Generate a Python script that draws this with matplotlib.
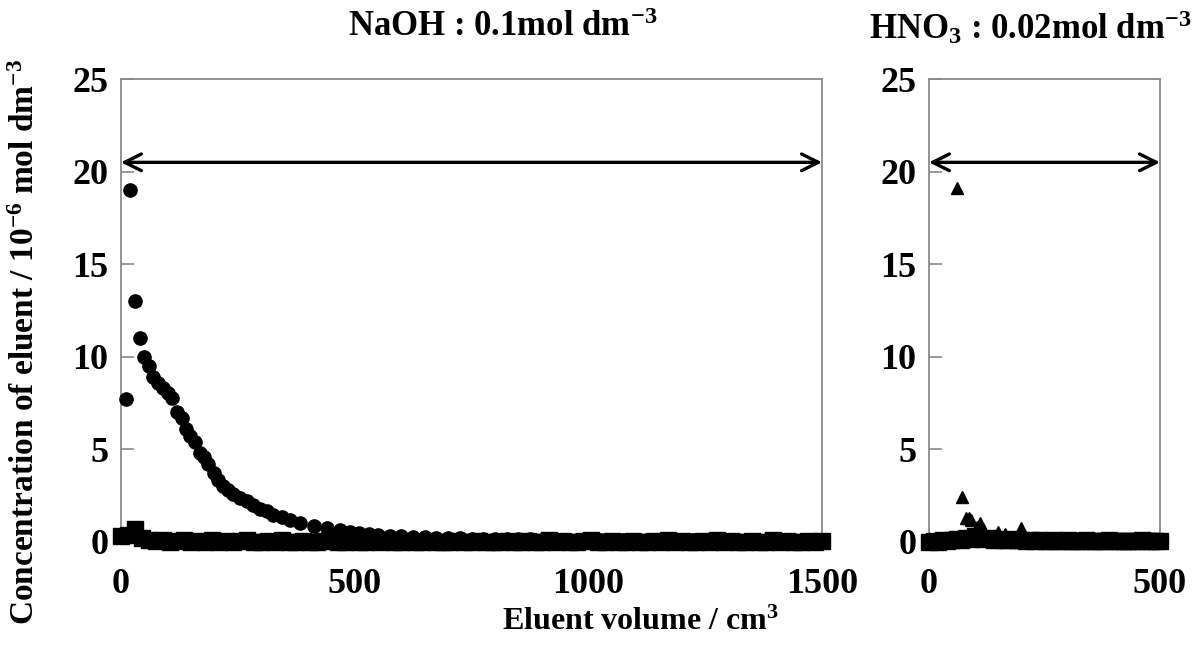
import numpy as np
import matplotlib
matplotlib.use("Agg")
import matplotlib.pyplot as plt

plt.rcParams['font.family'] = ['Liberation Serif', 'DejaVu Serif']
plt.rcParams['font.weight'] = 'bold'
plt.rcParams['mathtext.fontset'] = 'custom'
plt.rcParams['mathtext.rm'] = 'Liberation Serif:bold'
plt.rcParams['mathtext.bf'] = 'Liberation Serif:bold'
plt.rcParams['mathtext.it'] = 'Liberation Serif:bold'
plt.rcParams['mathtext.default'] = 'bf'

# ---- Data: NaOH elution (left panel) ----
naoh_x = [10, 20, 30, 40, 50, 60, 69, 80, 90, 100, 110, 120, 130, 139, 148, 158, 168, 178,
          187, 198, 208, 219, 230, 240, 255, 269, 283, 297, 312, 326, 344, 362, 383, 412,
          440, 469, 490, 510, 530, 550, 575, 600, 625, 650, 675, 700, 725, 750, 775, 800,
          825, 850, 875, 900, 925, 950, 975, 1000, 1025, 1050, 1075, 1100, 1125, 1150,
          1175, 1200, 1225, 1250, 1275, 1300, 1325, 1350, 1375, 1400, 1425, 1450, 1475, 1500]
naoh_y = [7.7, 19.0, 13.0, 11.0, 10.0, 9.5, 8.9, 8.6, 8.3, 8.05, 7.8, 7.0, 6.7, 6.1, 5.7,
          5.4, 4.8, 4.6, 4.2, 3.7, 3.35, 3.0, 2.8, 2.6, 2.35, 2.2, 2.0, 1.8, 1.65, 1.45,
          1.35, 1.2, 1.0, 0.85, 0.75, 0.65, 0.55, 0.5, 0.45, 0.4, 0.35, 0.3, 0.28, 0.25,
          0.22, 0.2, 0.19, 0.18, 0.17, 0.16, 0.15, 0.15, 0.14, 0.13, 0.13, 0.12, 0.12, 0.11,
          0.11, 0.1, 0.1, 0.1, 0.1, 0.09, 0.09, 0.09, 0.09, 0.08, 0.08, 0.08, 0.08, 0.08,
          0.08, 0.07, 0.07, 0.07, 0.07, 0.07]

# other eluted species in NaOH (near zero), every 15 cm3 from 0 to 1500
naoh_other_y = [0.3, 0.4, 0.7, 0.2, 0.1, 0.05, 0.1, 0.0, 0.05, 0.1, 0.0, 0.05, 0.0, 0.1, 0.0,
                0.05, 0.0, 0.05, 0.1, 0.0, 0.0, 0.05, 0.0, 0.1, 0.0, 0.0, 0.05, 0.0, 0.0, 0.05,
                0.1, 0.0, 0.0, 0.05, 0.0, 0.0, 0.05, 0.0, 0.1, 0.0, 0.0, 0.05, 0.0, 0.0, 0.05,
                0.0, 0.0, 0.0, 0.05, 0.0, 0.0, 0.05, 0.0, 0.0, 0.0, 0.05, 0.0, 0.0, 0.05, 0.0,
                0.0, 0.1, 0.0, 0.05, 0.0, 0.0, 0.05, 0.1, 0.0, 0.0, 0.05, 0.0, 0.0, 0.05, 0.0,
                0.0, 0.05, 0.0, 0.1, 0.0, 0.05, 0.0, 0.0, 0.05, 0.0, 0.1, 0.0, 0.05, 0.0, 0.0,
                0.05, 0.0, 0.0, 0.1, 0.0, 0.05, 0.0, 0.0, 0.05, 0.0, 0.05]
naoh_other_x = np.linspace(0, 1500, len(naoh_other_y))

# ---- Data: HNO3 elution (right panel) ----
hno3_x = [61, 71, 80, 86, 90, 103, 110, 117, 150, 165, 200]
hno3_y = [19.1, 2.45, 1.3, 1.3, 1.2, 0.8, 1.0, 0.7, 0.55, 0.45, 0.75]

hno3_other_y = [0.0, 0.05, 0.0, 0.1, 0.05, 0.1, 0.15, 0.1, 0.2, 0.15, 0.3, 0.2, 0.15, 0.2, 0.1,
                0.15, 0.1, 0.1, 0.15, 0.1, 0.1, 0.05, 0.1, 0.05, 0.1, 0.05, 0.05, 0.1, 0.05,
                0.05, 0.1, 0.05, 0.05, 0.05, 0.1, 0.05, 0.05, 0.05, 0.05, 0.1, 0.05, 0.05,
                0.05, 0.05, 0.05, 0.05, 0.1, 0.05, 0.05, 0.05, 0.05]
hno3_other_x = np.linspace(0, 500, len(hno3_other_y))

arrow_y = 20.5

fig = plt.figure(figsize=(11.97, 6.58), dpi=100)
axL = fig.add_axes([121/1197, 1-542/658, 701/1197, 463/658])
axR = fig.add_axes([929/1197, 1-542/658, 231/1197, 463/658])

spine_col = '#8a8a8a'
for ax, xmax, xticks in [(axL, 1500, [0, 500, 1000, 1500]), (axR, 500, [0, 500])]:
    ax.set_xlim(0, xmax)
    ax.set_ylim(0, 25)
    ax.set_xticks(xticks)
    ax.set_yticks([0, 5, 10, 15, 20, 25])
    for s in ax.spines.values():
        s.set_color(spine_col)
        s.set_linewidth(1.3)
    ax.tick_params(axis='y', direction='in', length=9, width=1.2, color=spine_col,
                   labelsize=26, pad=9)
    ax.tick_params(axis='x', direction='in', length=0, labelsize=26, pad=19)
    for lab in ax.get_xticklabels() + ax.get_yticklabels():
        lab.set_fontweight('bold')
    ax.annotate('', xy=(0, arrow_y), xytext=(xmax, arrow_y),
                arrowprops=dict(arrowstyle='<->', lw=2.4, color='black',
                                mutation_scale=30, shrinkA=0, shrinkB=0))

axL.plot(naoh_other_x, naoh_other_y, linestyle='none', marker='s', markersize=11,
         color='black', clip_on=False, zorder=3)
axL.plot(naoh_x, naoh_y, linestyle='none', marker='o', markersize=9.5,
         color='black', clip_on=False, zorder=4)

axR.plot(hno3_other_x, hno3_other_y, linestyle='none', marker='s', markersize=11,
         color='black', clip_on=False, zorder=3)
axR.plot(hno3_x, hno3_y, linestyle='none', marker='^', markersize=9,
         color='black', clip_on=False, zorder=4)

fig.text(503/1197, 1-28/658, 'NaOH : 0.1mol dm$^{-3}$', ha='center', va='center',
         fontsize=25, fontweight='bold')
fig.text(1030/1197, 1-28/658, 'HNO$_3$ : 0.02mol dm$^{-3}$', ha='center', va='center',
         fontsize=25, fontweight='bold')
fig.text(640/1197, 1-622/658, 'Eluent volume / cm$^3$', ha='center', va='center',
         fontsize=23, fontweight='bold')
fig.text(26/1197, 1-342/658, 'Concentration of eluent / 10$^{-6}$ mol dm$^{-3}$',
         ha='center', va='center', rotation=90, fontsize=24, fontweight='bold')

fig.savefig('out.png', dpi=100)
